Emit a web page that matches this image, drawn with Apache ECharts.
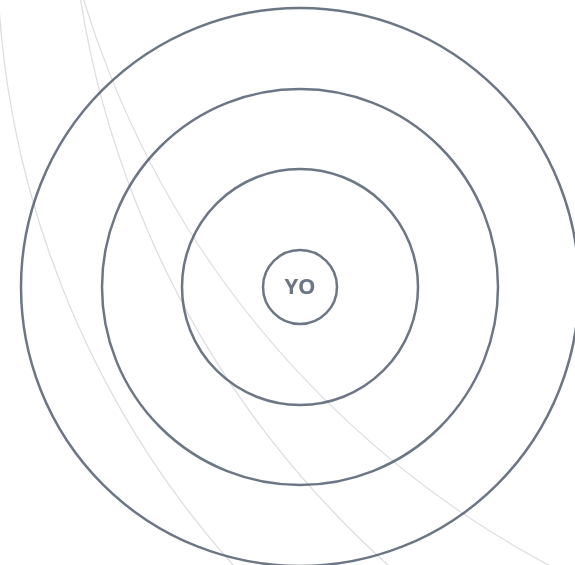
<!DOCTYPE html>
<html>
<head>
<meta charset="utf-8">
<script src="https://cdn.jsdelivr.net/npm/echarts@6/dist/echarts.min.js"></script>
<style>
  html, body { margin: 0; padding: 0; background: #ffffff; }
  #chart { width: 575px; height: 565px; }
</style>
</head>
<body>
<div id="chart"></div>
<script>
// Central node and its concentric rings (pixel-space data)
const centerLabel = 'YO';
const centerX = 300;
const centerY = 287;
const ringRadii = [37, 118, 198, 279];

// Faint background arcs: centres (off canvas) and radii
const arcCentersX = [929, 1030, 1000];
const arcCentersY = [-55, -150, -280];
const arcRadii = [932, 961, 958];

const darkColor = '#475467';
const faintColor = '#d2d4da';

const arcData = arcRadii.map((r, i) => ({ value: [arcCentersX[i], arcCentersY[i]], symbolSize: r * 2 }));
const ringData = ringRadii.map((r) => ({ value: [centerX, centerY], symbolSize: r * 2 }));

const chart = echarts.init(document.getElementById('chart'), null, { renderer: 'canvas' });
chart.setOption({
  animation: false,
  backgroundColor: '#ffffff',
  grid: { left: 0, right: 0, top: 0, bottom: 0 },
  xAxis: { type: 'value', min: 0, max: 575, show: false },
  yAxis: { type: 'value', min: 0, max: 565, inverse: true, show: false },
  series: [
    {
      type: 'scatter',
      clip: false,
      silent: true,
      symbol: 'circle',
      data: arcData,
      itemStyle: { color: 'rgba(0,0,0,0)', borderColor: faintColor, borderWidth: 1.2 },
      z: 1
    },
    {
      type: 'scatter',
      clip: false,
      silent: true,
      symbol: 'circle',
      data: ringData,
      itemStyle: { color: 'rgba(0,0,0,0)', borderColor: darkColor, borderWidth: 2.5 },
      z: 2
    },
    {
      type: 'scatter',
      clip: false,
      silent: true,
      symbolSize: 0,
      data: [{ value: [centerX, centerY], name: centerLabel }],
      label: {
        show: true, position: 'inside', formatter: '{b}',
        fontSize: 22, fontWeight: 'bold', color: darkColor,
        fontFamily: '"Open Sans", Lato, sans-serif', offset: [0, 1]
      },
      z: 3
    }
  ]
});
</script>
</body>
</html>
